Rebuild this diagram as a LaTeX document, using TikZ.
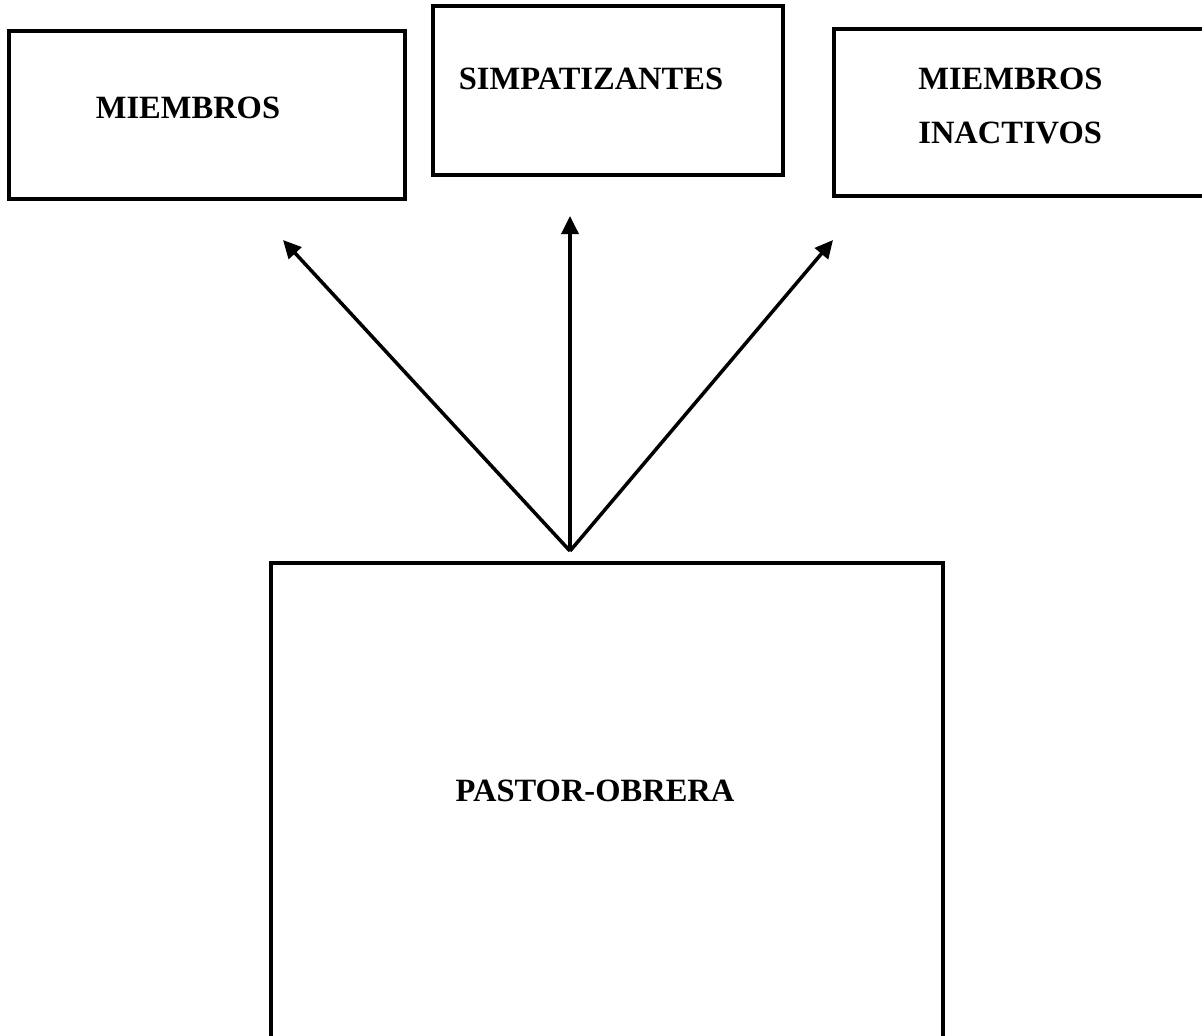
\documentclass[tikz,border=0pt]{standalone}
\usepackage{fontspec}
\setmainfont{Liberation Serif}
\usetikzlibrary{arrows.meta}
\tikzset{caja/.style={draw, line width=1.8pt, inner sep=0pt}}
\tikzset{rotulo/.style={font=\bfseries\fontsize{18.5}{31}\selectfont, inner sep=0pt}}
\tikzset{flecha/.style={line width=2pt, -{Triangle[length=0.36cm,width=0.34cm]}}}

\begin{document}
\begin{tikzpicture} [x=0.02cm,y=-0.02cm]
    \useasboundingbox (0,0) rectangle (1202,1035);
    \clip (0,0) rectangle (1202,1035);
    % cajas
    \node[caja, minimum width=7.92cm, minimum height=3.36cm] (miembros) at (207,115) {};
    \node[caja, minimum width=7.0cm, minimum height=3.38cm] (simpatizantes) at (608,90.5) {};
    \node[caja, minimum width=8.12cm, minimum height=3.34cm] (inactivos) at (1037,112.5) {};
    \node[caja, minimum width=13.44cm, minimum height=10.34cm] (pastor) at (607,821.5) {};
    % textos
    \node[rotulo] (tmiembros) at (188,108) {MIEMBROS};
    \node[rotulo] (tsimpatizantes) at (591,79) {SIMPATIZANTES};
    \node[rotulo, anchor=west, align=left] (tinactivos) at (918,106) {MIEMBROS\\INACTIVOS};
    \node[rotulo] (tpastor) at (595,791) {PASTOR-OBRERA};
    % flechas
    \coordinate (origen) at (570,551);
    \coordinate (puntaI) at (283,240);
    \coordinate (puntaC) at (570,216);
    \coordinate (puntaD) at (833,240);
    \draw[flecha] (origen) -- (puntaI);
    \draw[flecha] (origen) -- (puntaC);
    \draw[flecha] (origen) -- (puntaD);
\end{tikzpicture}
\end{document}
